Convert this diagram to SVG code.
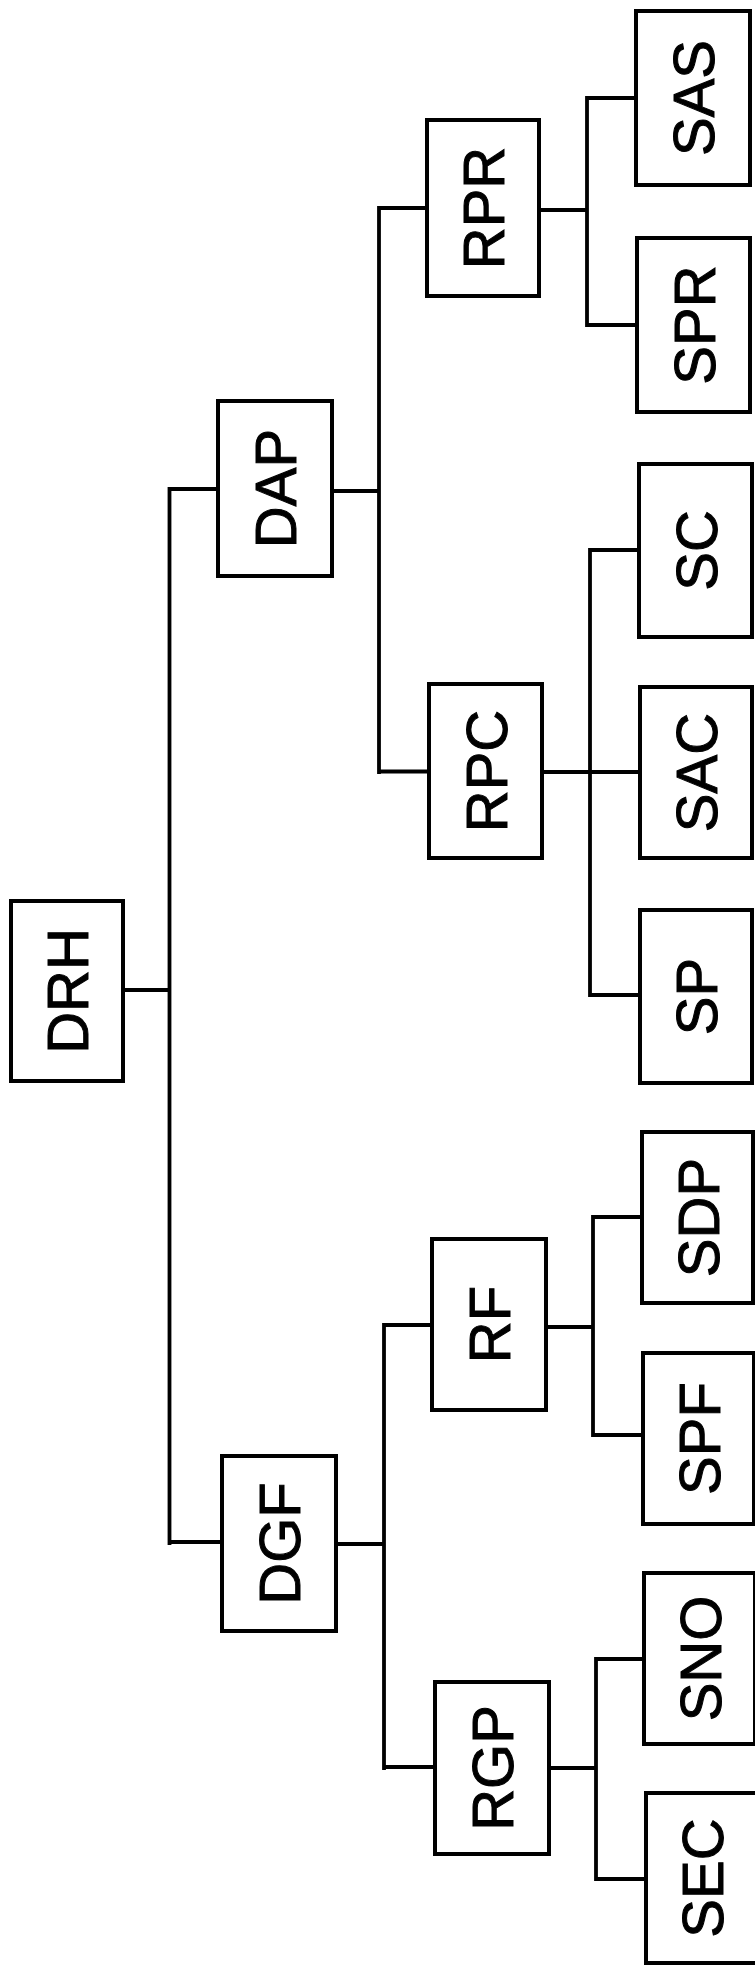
<svg xmlns="http://www.w3.org/2000/svg" width="755" height="1967" viewBox="0 0 755 1967">
<style>
.box{fill:#fff;stroke:#000;stroke-width:4}
.lbl{font-family:"Liberation Sans",Arial,sans-serif;font-size:58px;fill:#000;stroke:#000;stroke-width:1;text-anchor:middle}
.con{fill:none;stroke:#000;stroke-width:3.8;stroke-linecap:square;stroke-linejoin:miter}
</style>
<rect width="755" height="1967" fill="#fff"/>
<g id="connectors" class="con">
<path d="M123,990 H169.5 M169.5,489 V1543 M169.5,489 H218 M169.5,1542 H222"/>
<path d="M332,491 H379 M379,208 V772 M379,208 H427 M379,771.5 H429"/>
<path d="M336,1544 H384 M384,1325 V1768 M384,1325 H432 M384,1767 H435"/>
<path d="M539,210 H587 M587,98 V325 M587,98 H636 M587,325 H637"/>
<path d="M542,772 H640 M590,550 V995 M590,550 H639 M590,995 H640"/>
<path d="M546,1327 H593 M593,1217 V1435 M593,1217 H642 M593,1435 H643"/>
<path d="M549,1768 H596 M596,1659 V1879 M596,1659 H644 M596,1879 H646"/>
</g>
<g id="DRH"><rect class="box" x="11" y="901" width="112" height="180"/><text class="lbl" transform="translate(88,991) rotate(-90)">DRH</text></g>
<g id="DAP"><rect class="box" x="218" y="401" width="114" height="175"/><text class="lbl" transform="translate(296,488.5) rotate(-90)">DAP</text></g>
<g id="DGF"><rect class="box" x="222" y="1456" width="114" height="175"/><text class="lbl" transform="translate(300,1543.5) rotate(-90)">DGF</text></g>
<g id="RPR"><rect class="box" x="427" y="120" width="112" height="176"/><text class="lbl" transform="translate(504,208) rotate(-90)">RPR</text></g>
<g id="RPC"><rect class="box" x="429" y="684" width="113" height="174"/><text class="lbl" transform="translate(506.5,771) rotate(-90)">RPC</text></g>
<g id="RF"><rect class="box" x="432" y="1239" width="114" height="171"/><text class="lbl" transform="translate(510,1324.5) rotate(-90)">RF</text></g>
<g id="RGP"><rect class="box" x="435" y="1682" width="114" height="172"/><text class="lbl" transform="translate(513,1768) rotate(-90)">RGP</text></g>
<g id="SAS"><rect class="box" x="636" y="11" width="114" height="174"/><text class="lbl" transform="translate(714,98) rotate(-90)">SAS</text></g>
<g id="SPR"><rect class="box" x="637" y="238" width="113" height="174"/><text class="lbl" transform="translate(714.5,325) rotate(-90)">SPR</text></g>
<g id="SC"><rect class="box" x="639" y="464" width="113" height="173"/><text class="lbl" transform="translate(716.5,550.5) rotate(-90)">SC</text></g>
<g id="SAC"><rect class="box" x="640" y="687" width="112" height="171"/><text class="lbl" transform="translate(717,772.5) rotate(-90)">SAC</text></g>
<g id="SP"><rect class="box" x="640" y="910" width="112" height="173"/><text class="lbl" transform="translate(717,996.5) rotate(-90)">SP</text></g>
<g id="SDP"><rect class="box" x="642" y="1132" width="111" height="171"/><text class="lbl" transform="translate(718.5,1217.5) rotate(-90)">SDP</text></g>
<g id="SPF"><rect class="box" x="643" y="1353" width="111" height="171"/><text class="lbl" transform="translate(719.5,1438.5) rotate(-90)">SPF</text></g>
<g id="SNO"><rect class="box" x="644" y="1573" width="111" height="171"/><text class="lbl" transform="translate(720.5,1658.5) rotate(-90)">SNO</text></g>
<g id="SEC"><rect class="box" x="646" y="1793" width="111" height="170"/><text class="lbl" transform="translate(722.5,1878) rotate(-90)">SEC</text></g>
</svg>
